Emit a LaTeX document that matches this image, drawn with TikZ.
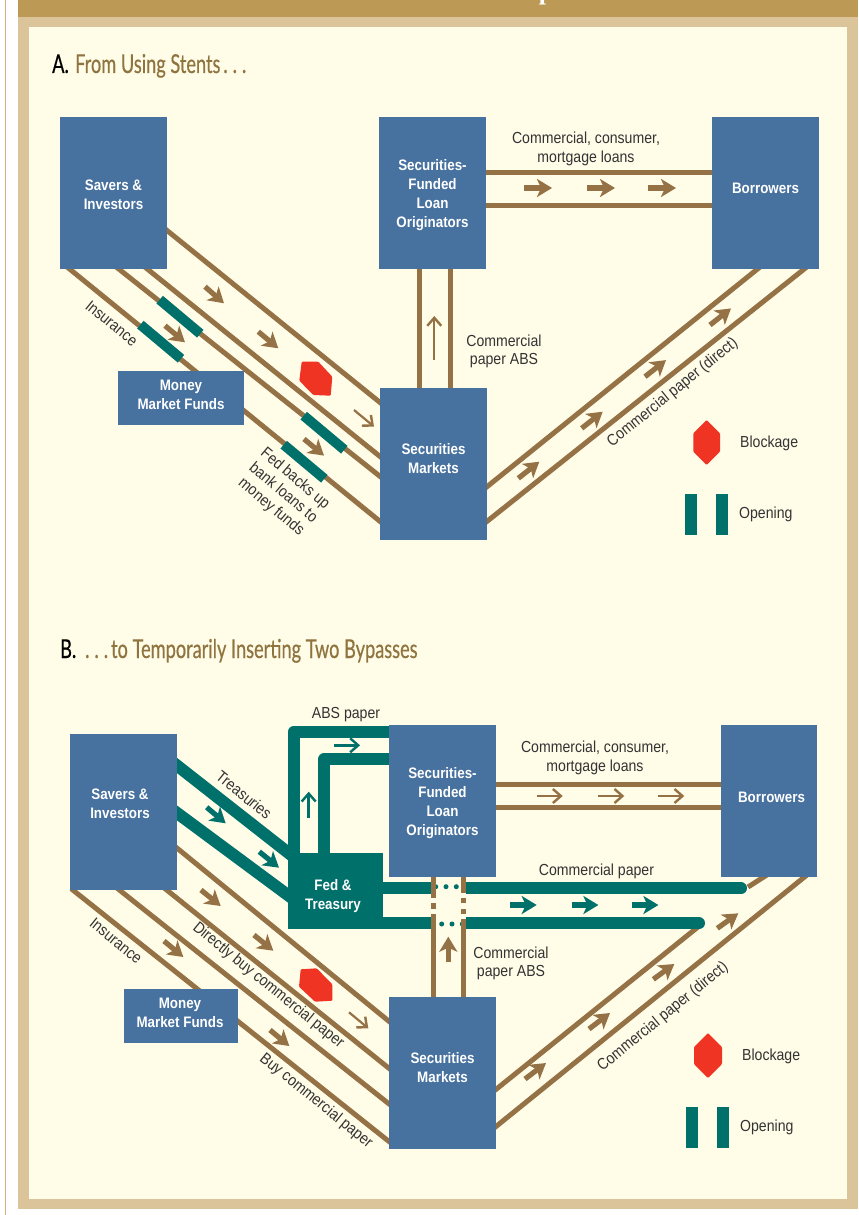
\documentclass[tikz,border=0pt]{standalone}
\usepackage{fontspec}
\setmainfont[FakeStretch=0.88]{Liberation Sans}
\newfontfamily\titlefont[FakeStretch=0.7,FakeBold=0.4]{Lato}
\newfontfamily\headfont{Liberation Serif}
\usetikzlibrary{arrows.meta, positioning, backgrounds}
\definecolor{framedark}{HTML}{BC9A55}
\definecolor{frametan}{HTML}{DBC39A}
\definecolor{panelcream}{HTML}{FFFCE8}
\definecolor{fundblue}{HTML}{47719E}
\definecolor{bypassteal}{HTML}{00706B}
\definecolor{pipebrown}{HTML}{957245}
\definecolor{blockred}{HTML}{F03423}
\definecolor{titlebrown}{HTML}{8F743F}
\definecolor{labelgray}{HTML}{333333}

\begin{document}
\begin{tikzpicture}[x=1pt,y=-1pt,on grid,
      fundbox/.style={fill=fundblue,inner sep=0pt,outer sep=0pt,
        minimum width=107pt,minimum height=152pt},
      fundtext/.style={text=white,align=center,inner sep=0pt,
        font=\fontsize{15.2}{19}\selectfont\bfseries},
      flowlabel/.style={align=center,inner sep=0pt,text=labelgray,
        font=\fontsize{16}{18.5}\selectfont},
      titlelabel/.style={anchor=base west,inner sep=0pt,font=\titlefont\fontsize{26}{30}\selectfont},
      gate/.style={fill=bypassteal,inner sep=0pt,minimum width=53pt,minimum height=10pt},
      pipe/.style={draw=pipebrown,line width=5pt},
      bypass/.style={draw=bypassteal,line width=12pt},
      sunk/.style={shorten <=-8pt,shorten >=-8pt},
      seep/.style={draw=bypassteal,line width=5pt,line cap=round,dash pattern=on 0pt off 10.3pt},
      fatflow/.style={draw=pipebrown,line width=5.2pt,-{Stealth[length=15pt,width=18pt,inset=4pt]}},
      thinflow/.style={draw=pipebrown,line width=2.2pt,-{Straight Barb[length=8pt,width=14pt,line width=2.4pt]}},
      fatteal/.style={fatflow,draw=bypassteal},
      thinteal/.style={thinflow,draw=bypassteal,line width=2.6pt},
      blockage/.style={fill=blockred,rounded corners=1pt}]
  \useasboundingbox (0,0) rectangle (859,1215);

  \node[fundbox,label={[fundtext,yshift=-2pt]center:{Savers \&\\Investors}}] (savers_a) at (113.5,193) {};
  \node[fundbox,label={[fundtext,yshift=-2pt]center:{Securities-\\Funded\\Loan\\Originators}}] (orig_a) [right=319pt of savers_a] {};
  \node[fundbox,label={[fundtext,yshift=5pt]center:Borrowers}] (borrow_a) [right=333pt of orig_a] {};
  \node[fundbox,label={[fundtext,yshift=5pt]center:{Securities\\Markets}}] (markets_a) [below=271pt of orig_a,xshift=1pt] {};
  \node[fundbox,minimum width=126pt,minimum height=54pt,label={[fundtext,yshift=3pt]center:{Money\\Market Funds}}] (mmf_a) at (181,398) {};

  \node[fundbox,minimum height=156pt,label={[fundtext,yshift=8pt,xshift=-3.5pt]center:{Savers \&\\Investors}}] (savers_b) at (123.5,812) {};
  \node[fundbox,label={[fundtext,yshift=-2pt]center:{Securities-\\Funded\\Loan\\Originators}}] (orig_b) at (442.5,801) {};
  \node[fundbox,minimum width=96pt,label={[fundtext,yshift=4pt,xshift=2.5pt]center:Borrowers}] (borrow_b) [right=326.5pt of orig_b] {};
  \node[fundbox,label={[fundtext,yshift=5pt]center:{Securities\\Markets}}] (markets_b) [below=272pt of orig_b] {};
  \node[fundbox,minimum width=114pt,minimum height=54pt,label={[fundtext,yshift=3pt,xshift=-1pt]center:{Money\\Market Funds}}] (mmf_b) at (181,1016) {};
  \node[fundbox,fill=bypassteal,minimum width=95pt,minimum height=76pt,label={[fundtext,yshift=-5pt,xshift=-2.5pt]center:{Fed \&\\Treasury}}] (fed_b) at (335.5,891) {};

  \begin{scope}[on background layer]
    \fill[frametan] (18,17) rectangle (857.7,1209);
    \fill[framedark] (18,0) rectangle (857.7,17);
    \fill[panelcream] (29,27) rectangle (847,1199);
    \draw[frametan!60!framedark,line width=1pt] (5.5,0) -- (5.5,1215);
    \begin{scope}
      \clip (0,0) rectangle (859,17);
      \node[anchor=base,inner sep=0pt,text=white,font=\headfont\fontsize{26}{26}\selectfont\bfseries] (head_cut) at (546,-0.3) {p};
    \end{scope}

    \draw[pipe,sunk] (savers_a.-35.4) -- (markets_a.131.3);
    \draw[pipe,sunk] (savers_a.-66.2) -- (markets_a.172.5);
    \draw[pipe,sunk] (savers_a.-86.6) -- (markets_a.193.7);
    \draw[pipe,sunk] (savers_a.-120.9) -- (markets_a.227.8);
    \draw[pipe] ([yshift=21pt]orig_a.east) -- ([yshift=21pt]borrow_a.west);
    \draw[pipe] ([yshift=-12pt]orig_a.east) -- ([yshift=-12pt]borrow_a.west);
    \draw[pipe] ([xshift=-14.5pt]markets_a.north) -- ([xshift=-13.5pt]orig_a.south);
    \draw[pipe] ([xshift=16.5pt]markets_a.north) -- ([xshift=17.5pt]orig_a.south);
    \draw[pipe,sunk] (markets_a.-23) -- (borrow_a.-96.6);
    \draw[pipe,sunk] (markets_a.-47.9) -- (borrow_a.-63.6);

    \draw[pipe,sunk] (savers_b.-34.2) -- (markets_b.136.2);
    \draw[pipe,sunk] (savers_b.-61) -- (markets_b.175);
    \draw[pipe,sunk] (savers_b.-93.08) -- (markets_b.210.9);
    \draw[pipe,shorten <=-2pt,shorten >=-8pt] (savers_b.-123.6) -- (markets_b.232.7);
    \draw[pipe,line width=5.5pt] ([yshift=16.5pt]orig_b.east) -- ([yshift=16.5pt]borrow_b.west);
    \draw[pipe,line width=5.5pt] ([yshift=-6.7pt]orig_b.east) -- ([yshift=-6.7pt]borrow_b.west);

    \coordinate (cp_low_end) at (698.3,926.7);
    \coordinate (cp_stub) at (748,887);
    \draw[pipe,shorten <=-8pt] (markets_b.-17.6) -- (cp_low_end);
    \draw[pipe,shorten >=-8pt] (cp_stub) -- (borrow_b.-94.9);
    \draw[pipe,sunk] (markets_b.-45.3) -- (borrow_b.-65.9);

    \draw[bypass,sunk] (savers_b.41.5) -- (fed_b.141.3);
    \draw[bypass,sunk] (savers_b.-1) -- (fed_b.185.65);
    \draw[bypass,line join=round] ([xshift=5.7pt]fed_b.north west) |- ([yshift=69.3pt]orig_b.west);
    \draw[bypass,line join=round] ([xshift=36pt]fed_b.north west) |- ([yshift=41.7pt]orig_b.west);

    \coordinate (top_gap_l) at (430.7,888.3);
    \coordinate (top_gap_r) at (466,888.3);
    \coordinate (top_mid) at (600,888.3);
    \coordinate (top_end) at (741,888.3);
    \coordinate (low_gap_l) at (430.7,923.3);
    \coordinate (low_gap_r) at (466,923.3);
    \coordinate (low_mid) at (600,923.3);
    \coordinate (low_end) at (699,923.3);
    \draw[bypass] ([yshift=2.7pt]fed_b.east) -- (top_gap_l);
    \draw[bypass] (top_gap_r) -- (top_mid);
    \draw[bypass,line cap=round] (top_mid) -- (top_end);
    \draw[bypass] ([yshift=-32.3pt]fed_b.east) -- (low_gap_l);
    \draw[bypass] (low_gap_r) -- (low_mid);
    \draw[bypass,line cap=round] (low_mid) -- (low_end);

    \coordinate (dots_top_l) at (435.7,886.7);
    \coordinate (dots_top_r) at (460,886.7);
    \coordinate (dots_low_l) at (441.7,924);
    \coordinate (dots_low_r) at (466,924);
    \draw[seep] (dots_top_l) -- (dots_top_r);
    \draw[seep] (dots_low_l) -- (dots_low_r);

    \draw[pipe,dash pattern=on 21pt off 5pt on 6pt off 5pt on 90pt] ([xshift=-9.3pt]orig_b.south) -- ([xshift=-9.3pt]markets_b.north);
    \draw[pipe,dash pattern=on 16pt off 5pt on 5pt off 6pt on 5pt off 5pt on 90pt] ([xshift=21pt]orig_b.south) -- ([xshift=21pt]markets_b.north);
  \end{scope}

  \coordinate (fa_1) at (205,286.7);   \draw[fatflow] (fa_1) -- ++(19,16.6);
  \coordinate (fa_2) at (258.3,331.7); \draw[fatflow] (fa_2) -- ++(20,16.6);
  \coordinate (fa_3) at (165,325.7);   \draw[fatflow] (fa_3) -- ++(20,16.6);
  \coordinate (fa_4) at (304,439);     \draw[fatflow] (fa_4) -- ++(20,16.6);
  \coordinate (fa_5) at (354,410);     \draw[thinflow] (fa_5) -- ++(20,16.6);
  \coordinate (fa_6) at (434.3,360);   \draw[thinflow] (fa_6) -- ++(0,-44);
  \coordinate (fa_7) at (524,188);     \draw[fatflow] (fa_7) -- ++(28,0);
  \coordinate (fa_8) at (587,188);     \draw[fatflow] (fa_8) -- ++(28,0);
  \coordinate (fa_9) at (648,188);     \draw[fatflow] (fa_9) -- ++(28,0);
  \coordinate (fa_10) at (518.3,478.3); \draw[fatflow] (fa_10) -- ++(21,-16.6);
  \coordinate (fa_11) at (581.7,428.3); \draw[fatflow] (fa_11) -- ++(21,-16.6);
  \coordinate (fa_12) at (645,376.7);   \draw[fatflow] (fa_12) -- ++(21,-16.6);
  \coordinate (fa_13) at (710,325);     \draw[fatflow] (fa_13) -- ++(21,-16.6);

  \coordinate (fb_1) at (206.7,807.3); \draw[fatteal] (fb_1) -- ++(19,16);
  \coordinate (fb_2) at (259.3,851.7); \draw[fatteal] (fb_2) -- ++(19.7,16);
  \coordinate (fb_3) at (201,890);     \draw[fatflow] (fb_3) -- ++(19.7,16);
  \coordinate (fb_4) at (254,935);     \draw[fatflow] (fb_4) -- ++(19.3,15.7);
  \coordinate (fb_5) at (349,1012.3);  \draw[thinflow] (fb_5) -- ++(19.3,16);
  \coordinate (fb_6) at (164,941);     \draw[fatflow] (fb_6) -- ++(19.3,16);
  \coordinate (fb_7) at (270,1030);    \draw[fatflow] (fb_7) -- ++(19.3,16);
  \coordinate (fb_8) at (525,1079);    \draw[fatflow] (fb_8) -- ++(21,-16);
  \coordinate (fb_9) at (589,1029);    \draw[fatflow] (fb_9) -- ++(21,-16);
  \coordinate (fb_10) at (653.3,979.3); \draw[fatflow] (fb_10) -- ++(21,-15.3);
  \coordinate (fb_11) at (717.3,928.3); \draw[fatflow] (fb_11) -- ++(21,-15);
  \coordinate (fb_12) at (448.3,962.3); \draw[fatflow] (fb_12) -- ++(0,-25.6);
  \coordinate (fb_13) at (536.7,796);   \draw[thinflow] (fb_13) -- ++(26,0);
  \coordinate (fb_14) at (598.3,796);   \draw[thinflow] (fb_14) -- ++(26,0);
  \coordinate (fb_15) at (658.3,796);   \draw[thinflow] (fb_15) -- ++(26,0);
  \coordinate (fb_16) at (510,905);     \draw[fatteal] (fb_16) -- ++(26.7,0);
  \coordinate (fb_17) at (571.7,905);   \draw[fatteal] (fb_17) -- ++(26.7,0);
  \coordinate (fb_18) at (631.7,905);   \draw[fatteal] (fb_18) -- ++(26.7,0);
  \coordinate (fb_19) at (334,745.3);   \draw[thinteal] (fb_19) -- ++(26,0);
  \coordinate (fb_20) at (308.7,817.7); \draw[thinteal] (fb_20) -- ++(0,-26);

  \node[gate,rotate=-40] (gate_a1) at (180,316.7) {};
  \node[gate,rotate=-40] (gate_a2) at (160.7,341.7) {};
  \node[gate,rotate=-40] (gate_a3) at (324,432.7) {};
  \node[gate,rotate=-40] (gate_a4) at (304,461.7) {};
  \node[gate,rotate=90,minimum width=41pt,minimum height=12pt] (gate_a5) at (690.5,514.5) {};
  \node[gate,rotate=90,minimum width=41pt,minimum height=12pt] (gate_a6) at (722,514.5) {};
  \node[gate,rotate=90,minimum width=41pt,minimum height=12pt] (gate_b1) at (692.3,1127) {};
  \node[gate,rotate=90,minimum width=41pt,minimum height=12pt] (gate_b2) at (723.2,1127) {};

  \fill[blockage] (301.7,361.7) -- (318.3,361.7) -- (332.3,376.7) -- (330.7,395.7) -- (313.3,395) -- (299.3,380.7) -- cycle;
  \fill[blockage] (300.7,969.3) -- (316.7,968.3) -- (332.3,984.3) -- (332.3,1000.7) -- (315,1001.7) -- (299,986.7) -- cycle;
  \fill[blockage] (706.7,420) -- (720,433.3) -- (720,451.7) -- (706.7,465) -- (693.3,451.7) -- (693.3,433.3) -- cycle;
  \fill[blockage] (708,1033) -- (722,1047) -- (722,1064) -- (708,1078) -- (694,1064) -- (694,1047) -- cycle;

  \node[titlelabel] (title_a) at (52,73) {A.};
  \node[titlelabel,text=titlebrown] (title_a2) at (75,73) {From Using Stents\kern3pt.\kern5pt.\kern5pt.};
  \node[titlelabel] (title_b) at (60,658) {B.};
  \node[titlelabel,text=titlebrown] (title_b2) at (85,658) {.\kern5pt.\kern5pt.\kern3pt to Temporarily Inserting Two Bypasses};

  \node[flowlabel] (loans_a) at (586,149) {Commercial, consumer,\\mortgage loans};
  \node[flowlabel] (abs_a) at (504,351.5) {Commercial\\paper ABS};
  \node[flowlabel,rotate=-39] (ins_a) at (111.7,323.3) {Insurance};
  \node[flowlabel,rotate=-40] (fedback_a) at (283,493) {Fed backs up\\bank loans to\\money funds};
  \node[flowlabel,rotate=39] (direct_a) at (672.7,392.7) {Commercial paper (direct)};
  \node[flowlabel,anchor=west] (blk_a) at (740,443.5) {Blockage};
  \node[flowlabel,anchor=west] (opn_a) at (739,514.5) {Opening};

  \node[flowlabel] (abspaper_b) at (346,714.5) {ABS paper};
  \node[flowlabel] (loans_b) at (595,758) {Commercial, consumer,\\mortgage loans};
  \node[flowlabel,rotate=-39] (treas_b) at (244,795) {Treasuries};
  \node[flowlabel] (cpaper_b) at (596.5,871.5) {Commercial paper};
  \node[flowlabel] (abs_b) at (511,963.5) {Commercial\\paper ABS};
  \node[flowlabel,rotate=39] (direct_b) at (663,1017) {Commercial paper (direct)};
  \node[flowlabel,rotate=-39] (ins_b) at (116,940.7) {Insurance};
  \node[flowlabel,rotate=-39] (dbuy_b) at (268.3,985.7) {Directly buy commercial paper};
  \node[flowlabel,rotate=-39] (buy_b) at (316,1101) {Buy commercial paper};
  \node[flowlabel,anchor=west] (blk_b) at (742,1056.5) {Blockage};
  \node[flowlabel,anchor=west] (opn_b) at (740,1127.5) {Opening};
\end{tikzpicture}
\end{document}
